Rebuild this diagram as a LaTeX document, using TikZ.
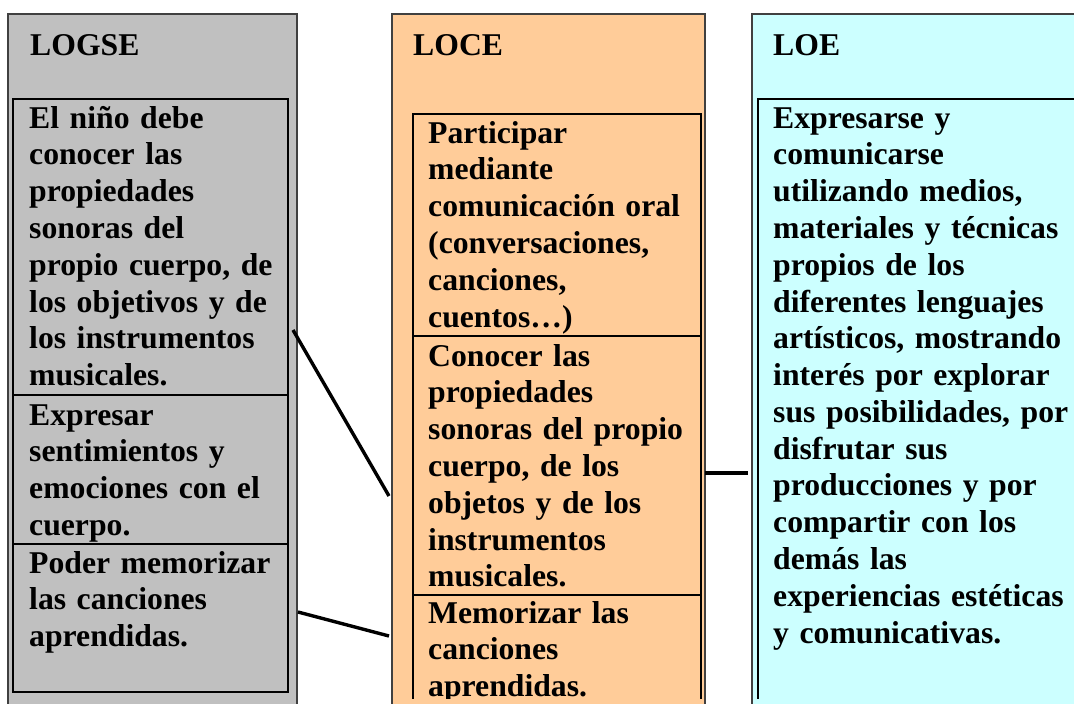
\documentclass[tikz,border=0pt]{standalone}
\usepackage{fontspec}
\setmainfont{Liberation Serif}
\usetikzlibrary{calc}
\definecolor{cgray}{HTML}{C0C0C0}
\definecolor{corange}{HTML}{FFCC99}
\definecolor{ccyan}{HTML}{CCFFFF}
\begin{document}
\begin{tikzpicture}[x=1pt,y=-1pt,
  outerbox/.style={draw=black!75,line width=1.5pt,anchor=north west,inner sep=0pt,outer sep=0pt},
  cellbox/.style={draw=black,line width=2pt,anchor=north west,inner sep=0pt,outer sep=0pt},
  txt/.style={anchor=base west,inner sep=0pt,text width=420pt,align=left,
              font=\fontsize{31.7}{36.8}\selectfont\bfseries},
  link/.style={line width=3.4pt}]
\useasboundingbox (0,0) rectangle (1074,704);
\clip (0,0) rectangle (1074,704);
\fill[white] (0,0) rectangle (1074,704);
% outer columns
\node[outerbox,fill=cgray,minimum width=289pt,minimum height=720pt] (logse) at (8,14) {};
\node[outerbox,fill=corange,minimum width=313pt,minimum height=720pt] (loce) at (392,14) {};
\node[outerbox,fill=ccyan,minimum width=400pt,minimum height=720pt] (loe) at (752,14) {};
% headers
\node[txt] (h1) at (30,55) {LOGSE};
\node[txt] (h2) at (413,55) {LOCE};
\node[txt] (h3) at (773,55) {LOE};
% LOGSE cells
\node[cellbox,minimum width=275pt,minimum height=296pt] (g1) at (13,99) {};
\node[cellbox,minimum width=275pt,minimum height=149pt] (g2) at (13,395) {};
\node[cellbox,minimum width=275pt,minimum height=148pt] (g3) at (13,544) {};
\node[txt] (tg1) at (29,128) {El niño debe\\conocer las\\propiedades\\sonoras del\\propio cuerpo, de\\los objetivos y de\\los instrumentos\\musicales.};
\node[txt] (tg2) at (29,425) {Expresar\\sentimientos y\\emociones con el\\cuerpo.};
\node[txt] (tg3) at (29,573) {Poder memorizar\\las canciones\\aprendidas.};
% LOCE and LOE cells (cut at the bottom)
\begin{scope}
\clip (0,0) rectangle (1074,698);
\node[cellbox,minimum width=288pt,minimum height=222pt] (c1) at (413,114) {};
\node[cellbox,minimum width=288pt,minimum height=259pt] (c2) at (413,336) {};
\node[cellbox,minimum width=288pt,minimum height=130pt] (c3) at (413,595) {};
\node[cellbox,minimum width=400pt,minimum height=650pt] (e1) at (758,99) {};
\node[txt] (tc1) at (428,143) {Participar\\mediante\\comunicación oral\\(conversaciones,\\canciones,\\cuentos…)};
\node[txt] (tc2) at (428,366) {Conocer las\\propiedades\\sonoras del propio\\cuerpo, de los\\objetos y de los\\instrumentos\\musicales.};
\node[txt] (tc3) at (428,623) {Memorizar las\\canciones\\aprendidas.};
\node[txt] (te1) at (773,128) {Expresarse y\\comunicarse\\utilizando medios,\\materiales y técnicas\\propios de los\\diferentes lenguajes\\artísticos, mostrando\\interés por explorar\\sus posibilidades, por\\disfrutar sus\\producciones y por\\compartir con los\\demás las\\experiencias estéticas\\y comunicativas.};
\end{scope}
% connectors
\draw[link] ($(g1.east)+(5,83)$) -- ($(c2.west)+(-24,30.5)$);
\draw[link] ($(g3.east)+(10,-6)$) -- ($(c3.west)+(-24,-24)$);
\draw[link] ($(c2.east)+(4,7.5)$) -- ($(e1.west)+(-10,49)$);
\end{tikzpicture}
\end{document}
